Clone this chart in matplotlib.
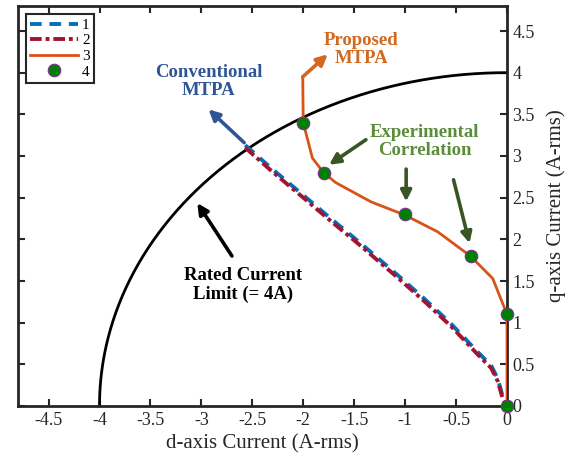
import numpy as np
import matplotlib.pyplot as plt

plt.rcParams['font.family'] = ['Liberation Serif', 'DejaVu Serif']

# rated current limit circle (A-rms)
i_rated = 4.0

# conventional MTPA trajectory (series 1 and 2)
mtpa_d = [-2.57, -2.32, -2.0, -1.73, -1.434, -1.073, -0.81, -0.548, -0.285, -0.155, -0.09, -0.04, 0.0]
mtpa_q1 = [3.13, 2.86, 2.53, 2.25, 1.95, 1.57, 1.285, 0.985, 0.645, 0.485, 0.325, 0.10, 0.0]
mtpa_q2 = [3.10, 2.83, 2.50, 2.22, 1.92, 1.54, 1.255, 0.955, 0.615, 0.455, 0.295, 0.08, 0.0]

# proposed MTPA trajectory (series 3)
prop_d = [-2.005, -2.0, -1.91, -1.8, -1.68, -1.335, -1.0, -0.68, -0.36, -0.14, 0.0, 0.0]
prop_q = [3.95, 3.4, 2.975, 2.8, 2.68, 2.45, 2.29, 2.09, 1.8, 1.53, 1.1, 0.0]

# experimental points (series 4)
exp_d = [-2.0, -1.8, -1.0, -0.35, 0.0, 0.0]
exp_q = [3.4, 2.8, 2.3, 1.8, 1.1, 0.0]

xticks = [-4.5, -4, -3.5, -3, -2.5, -2, -1.5, -1, -0.5, 0]
yticks = [0, 0.5, 1, 1.5, 2, 2.5, 3, 3.5, 4, 4.5]

fig = plt.figure(figsize=(5.74, 4.63), dpi=100)
ax = fig.add_axes([18 / 574, 1 - 406 / 463, (507 - 18) / 574, 400 / 463])

th = np.linspace(np.pi / 2, np.pi, 300)
ax.plot(i_rated * np.cos(th), i_rated * np.sin(th), color='black', lw=2.0, zorder=2)

ax.plot(mtpa_d, mtpa_q1, color='#0072BD', lw=2.8, ls=(0, (3, 2)), label='1', zorder=3)
ax.plot(mtpa_d, mtpa_q2, color='#A2142F', lw=2.8, ls=(0, (3, 1, 1, 1)), label='2', zorder=3)
ax.plot(prop_d, prop_q, color='#D95319', lw=2.0, label='3', zorder=3)
ax.plot(exp_d, exp_q, ls='none', marker='o', ms=9, mfc='#008000', mec='#7E2F8E', mew=0.8,
        label='4', zorder=5, clip_on=False)

ax.set_xlim(-4.8, 0)
ax.set_ylim(0, 4.8)
ax.set_xticks(xticks)
ax.set_xticklabels(['%g' % v for v in xticks])
ax.set_yticks(yticks)
ax.set_yticklabels(['%g' % v for v in yticks])
ax.yaxis.tick_right()
ax.yaxis.set_label_position('right')
ax.tick_params(direction='in', length=5, width=1.5, labelsize=13, top=True, bottom=True,
               left=True, right=True, colors='#262626', labelcolor='#262626', pad=4)
for s in ax.spines.values():
    s.set_linewidth(2.0)
    s.set_color('#262626')

ax.set_xlabel('d-axis Current (A-rms)', fontsize=15, color='#262626', labelpad=4)
ax.set_ylabel('q-axis Current (A-rms)', fontsize=15, color='#262626', labelpad=8)

leg = ax.legend(loc='upper left', fontsize=11, handlelength=3.1, fancybox=False,
                edgecolor='#262626', framealpha=1, borderaxespad=0.5,
                labelspacing=0.12, handletextpad=0.3, borderpad=0.3)
leg.get_frame().set_linewidth(1.5)

bold = dict(fontsize=13.5, fontweight='bold', ha='center', va='center', linespacing=1.1)

def arrow(tail, head, color):
    ax.annotate('', xy=head, xytext=tail,
                arrowprops=dict(arrowstyle='-|>', color=color, lw=2.6, mutation_scale=16,
                                shrinkA=0, shrinkB=0))

ax.text(-1.43, 4.28, 'Proposed\nMTPA', color='#D2691E', **bold)
arrow((-2.005, 3.95), (-1.76, 4.22), '#D2691E')

ax.text(-2.93, 3.89, 'Conventional\nMTPA', color='#2F5597', **bold)
arrow((-2.58, 3.16), (-2.93, 3.56), '#2F5597')

ax.text(-0.81, 3.17, 'Experimental\nCorrelation', color='#5B8C3A', **bold)
arrow((-1.385, 3.195), (-1.746, 2.895), '#375623')
arrow((-0.99, 2.843), (-0.99, 2.454), '#375623')
arrow((-0.525, 2.715), (-0.368, 1.954), '#375623')

ax.text(-2.59, 1.45, 'Rated Current\nLimit (= 4A)', color='black', **bold)
arrow((-2.70, 1.80), (-3.04, 2.435), 'black')

fig.savefig('out.png', dpi=100)
